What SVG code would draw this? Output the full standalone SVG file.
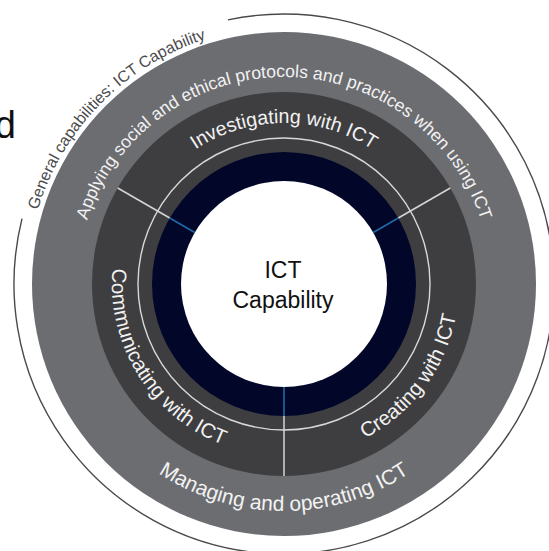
<svg xmlns="http://www.w3.org/2000/svg" xmlns:xlink="http://www.w3.org/1999/xlink" width="549" height="551" viewBox="0 0 549 551">
<style>
  text { font-family: "Liberation Sans", Arial, Helvetica, sans-serif; }
  .ring-label { fill: #f2f2f2; }
  .outer-label { fill: #4a4a4c; font-size: 16px; }
  .apply { font-size: 17.6px; }
  .inner { font-size: 20.5px; }
  .invest { font-size: 19.6px; }
  .manage { font-size: 21px; }
  .core-label { fill: #111; font-size: 23px; text-anchor: middle; }
  .div-w { stroke: #d6d6d6; stroke-width: 1.5; }
  .div-b { stroke: #1e6aa8; stroke-width: 1.6; }
</style>
<defs>
  <path id="p-general" d="M 36.3 352.7 A 257 257 0 0 1 348.4 35.2"/>
  <path id="p-apply" d="M 77 284 A 207 207 0 0 1 491 284"/>
  <path id="p-manage" d="M 57 284 A 227 227 0 0 0 511 284"/>
  <path id="p-invest" d="M 123 284 A 161 161 0 0 1 445 284"/>
  <path id="p-comm" d="M 132.1 203.2 A 172 172 0 0 0 290.0 455.9"/>
  <path id="p-create" d="M 263.0 456.0 A 173 173 0 0 0 443.0 212.5"/>
</defs>
<rect width="549" height="551" fill="#ffffff"/>

<text x="16" y="138" font-size="38" text-anchor="end" fill="#111">d</text>

<g id="general-capabilities">
  <path d="M 227.9 19.9 A 270 270 0 1 1 22.0 218.7" fill="none" stroke="#4a4a4c" stroke-width="1.4"/>
  <text class="outer-label"><textPath xlink:href="#p-general" href="#p-general" startOffset="50%" text-anchor="middle">General capabilities: ICT Capability</textPath></text>
</g>

<g id="outer-ring">
  <circle cx="284" cy="284" r="252" fill="#6c6d71"/>
  <text class="ring-label apply"><textPath xlink:href="#p-apply" href="#p-apply" startOffset="50%" text-anchor="middle">Applying social and ethical protocols and practices when using ICT</textPath></text>
  <text class="ring-label manage"><textPath xlink:href="#p-manage" href="#p-manage" startOffset="50%" text-anchor="middle">Managing and operating ICT</textPath></text>
</g>

<g id="middle-ring">
  <circle cx="284" cy="284" r="192" fill="#3e3e40"/>
  <circle cx="284" cy="284" r="146" fill="none" stroke="#d8d8d8" stroke-width="1.4"/>
</g>

<g id="investigating">
  <text class="ring-label invest"><textPath xlink:href="#p-invest" href="#p-invest" startOffset="50%" text-anchor="middle">Investigating with ICT</textPath></text>
</g>
<g id="creating">
  <text class="ring-label inner"><textPath xlink:href="#p-create" href="#p-create" startOffset="50%" text-anchor="middle">Creating with ICT</textPath></text>
</g>
<g id="communicating">
  <text class="ring-label inner"><textPath xlink:href="#p-comm" href="#p-comm" startOffset="50%" text-anchor="middle">Communicating with ICT</textPath></text>
</g>

<g id="core">
  <circle cx="284" cy="284" r="132" fill="#02072a"/>
  <circle cx="284" cy="284" r="103" fill="#ffffff"/>
  <text class="core-label" x="283" y="278">ICT</text>
  <text class="core-label" x="283" y="308">Capability</text>
</g>

<g id="connectors">
  <line class="div-w" x1="284" y1="416" x2="284" y2="476"/>
  <line class="div-b" x1="284" y1="387" x2="284" y2="416"/>
  <line class="div-w" x1="117.7" y1="188" x2="169.7" y2="218"/>
  <line class="div-b" x1="169.7" y1="218" x2="194.8" y2="232.5"/>
  <line class="div-w" x1="450.3" y1="188" x2="398.3" y2="218"/>
  <line class="div-b" x1="398.3" y1="218" x2="373.2" y2="232.5"/>
</g>
</svg>
